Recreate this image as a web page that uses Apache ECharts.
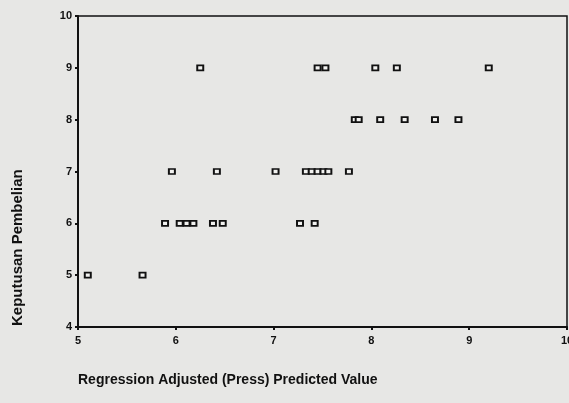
<!DOCTYPE html>
<html>
<head>
<meta charset="utf-8">
<script src="https://cdn.jsdelivr.net/npm/echarts@6/dist/echarts.min.js"></script>
<style>
html,body{margin:0;padding:0;background:#e7e7e5;}
#c{width:569px;height:403px;}
</style>
</head>
<body>
<div id="c"></div>
<script>
// Predicted values (x) and observed Keputusan Pembelian (y)
var predicted = [
  6.25, 7.45, 7.53, 8.04, 8.26, 9.20,
  7.83, 7.87, 8.09, 8.34, 8.65, 8.89,
  5.96, 6.42, 7.02, 7.33, 7.39, 7.45, 7.51, 7.56, 7.77,
  5.89, 6.04, 6.11, 6.18, 6.38, 6.48, 7.27, 7.42,
  5.10, 5.66
];
var keputusan = [
  9, 9, 9, 9, 9, 9,
  8, 8, 8, 8, 8, 8,
  7, 7, 7, 7, 7, 7, 7, 7, 7,
  6, 6, 6, 6, 6, 6, 6, 6,
  5, 5
];
var xTicks = [5, 6, 7, 8, 9, 10];
var yTicks = [4, 5, 6, 7, 8, 9, 10];
var xTitle = 'Regression Adjusted (Press) Predicted Value';
var yTitle = 'Keputusan Pembelian';

var points = predicted.map(function (v, i) { return [v, keputusan[i]]; });

var chart = echarts.init(document.getElementById('c'), null, {renderer: 'canvas'});
var labelStyle = {color: '#111', fontFamily: 'Liberation Sans, Arial, sans-serif', fontWeight: 'bold', fontSize: 11};
chart.setOption({
  backgroundColor: '#e7e7e5',
  animation: false,
  grid: {left: 78, top: 16, right: 2, bottom: 76, show: true, borderColor: '#111', borderWidth: 1.5,
         backgroundColor: 'transparent', containLabel: false, outerBoundsMode: 'none'},
  xAxis: {
    type: 'value', min: xTicks[0], max: xTicks[xTicks.length - 1], interval: 1,
    splitLine: {show: false},
    axisLine: {show: true, lineStyle: {color: '#111', width: 2}},
    axisTick: {show: true, inside: false, length: 3, lineStyle: {color: '#111', width: 2}},
    axisLabel: Object.assign({margin: 8}, labelStyle)
  },
  yAxis: {
    type: 'value', min: yTicks[0], max: yTicks[yTicks.length - 1], interval: 1,
    splitLine: {show: false},
    axisLine: {show: true, lineStyle: {color: '#111', width: 2}},
    axisTick: {show: true, inside: false, length: 3, lineStyle: {color: '#111', width: 2}},
    axisLabel: Object.assign({margin: 6}, labelStyle)
  },
  series: [{
    type: 'scatter',
    data: points,
    symbol: 'rect',
    symbolSize: [6, 5],
    itemStyle: {color: '#f2f2f0', borderColor: '#111', borderWidth: 1.8, opacity: 1}
  }],
  graphic: [
    {type: 'text', left: 78, top: 373,
     style: {text: xTitle, fill: '#111', font: 'bold 14px "Liberation Sans", Arial, sans-serif'}},
    {type: 'text', x: 10, y: 326, rotation: Math.PI / 2,
     style: {text: yTitle, fill: '#111', font: 'bold 15px "Liberation Sans", Arial, sans-serif', textAlign: 'left', textVerticalAlign: 'top'}}
  ]
});
</script>
</body>
</html>
